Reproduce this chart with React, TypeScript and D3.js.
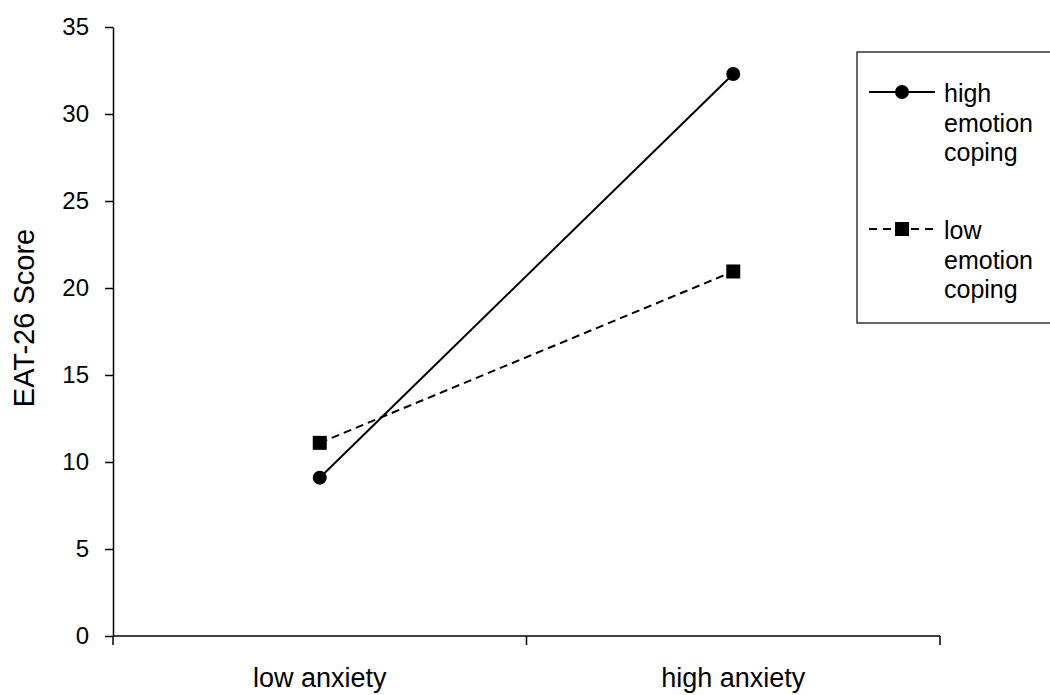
import React, { useEffect, useRef } from 'react'
import * as d3 from 'd3'

const categories = ['low anxiety', 'high anxiety']
const highEmotion = [9.1, 32.3]
const lowEmotion = [11.1, 20.95]
const yTicks = [0, 5, 10, 15, 20, 25, 30, 35]
const seriesNames = [['high', 'emotion', 'coping'], ['low', 'emotion', 'coping']]

const App = () => {
  const ref = useRef<SVGSVGElement>(null)

  useEffect(() => {
    const svg = d3.select(ref.current)
    svg.selectAll('*').remove()
    const font = 'Liberation Sans, Arial, sans-serif'

    const left = 113
    const right = 940
    const top = 27
    const bottom = 636

    const x = d3.scaleBand().domain(categories).range([left, right])
    const y = d3.scaleLinear().domain([0, 35]).range([bottom, top])

    // y axis
    const yAxis = svg
      .append('g')
      .attr('transform', `translate(${left},0)`)
      .call(d3.axisLeft(y).tickValues(yTicks).tickSize(8).tickPadding(16).tickSizeOuter(0))
    yAxis.select('.domain').attr('stroke', '#000').attr('stroke-width', 1.5)
    yAxis.selectAll('line').attr('stroke', '#000').attr('stroke-width', 1.5)
    yAxis.selectAll('text').attr('font-family', font).attr('font-size', 24).attr('fill', '#000')

    // x axis, ticks sit on the band edges
    const xg = svg.append('g').attr('transform', `translate(0,${bottom})`)
    xg.append('line').attr('x1', left).attr('x2', right).attr('stroke', '#000').attr('stroke-width', 1.5)
    const edges = [left, ...categories.map(c => (x(c) as number) + x.bandwidth())]
    xg.selectAll('line.tk')
      .data(edges)
      .enter()
      .append('line')
      .attr('class', 'tk')
      .attr('x1', d => d)
      .attr('x2', d => d)
      .attr('y1', 0)
      .attr('y2', 9)
      .attr('stroke', '#000')
      .attr('stroke-width', 1.5)
    xg.selectAll('text')
      .data(categories)
      .enter()
      .append('text')
      .attr('x', d => (x(d) as number) + x.bandwidth() / 2)
      .attr('y', 51)
      .attr('text-anchor', 'middle')
      .attr('font-family', font)
      .attr('font-size', 27)
      .text(d => d)

    // y title
    svg
      .append('text')
      .attr('transform', `translate(34,318) rotate(-90)`)
      .attr('text-anchor', 'middle')
      .attr('font-family', font)
      .attr('font-size', 29)
      .text('EAT-26 Score')

    const cx = (c: string) => (x(c) as number) + x.bandwidth() / 2
    const line = d3
      .line<number>()
      .x((d, i) => cx(categories[i]))
      .y(d => y(d))

    // low emotion coping (dashed, squares)
    svg
      .append('path')
      .attr('d', line(lowEmotion))
      .attr('fill', 'none')
      .attr('stroke', '#000')
      .attr('stroke-width', 2)
      .attr('stroke-dasharray', '8,5')
    svg
      .selectAll('rect.pt')
      .data(lowEmotion)
      .enter()
      .append('rect')
      .attr('x', (d, i) => cx(categories[i]) - 7)
      .attr('y', d => y(d) - 7)
      .attr('width', 14)
      .attr('height', 14)
      .attr('fill', '#000')

    // high emotion coping (solid, circles)
    svg
      .append('path')
      .attr('d', line(highEmotion))
      .attr('fill', 'none')
      .attr('stroke', '#000')
      .attr('stroke-width', 2)
    svg
      .selectAll('circle.pt')
      .data(highEmotion)
      .enter()
      .append('circle')
      .attr('cx', (d, i) => cx(categories[i]))
      .attr('cy', d => y(d))
      .attr('r', 7)
      .attr('fill', '#000')

    // legend
    const lg = svg.append('g')
    lg.append('rect')
      .attr('x', 857)
      .attr('y', 52)
      .attr('width', 210)
      .attr('height', 271)
      .attr('fill', '#fff')
      .attr('stroke', '#000')
      .attr('stroke-width', 1.2)
    const rows = [92, 229]
    seriesNames.forEach((lines, i) => {
      const ry = rows[i]
      lg.append('line')
        .attr('x1', 869)
        .attr('x2', 935)
        .attr('y1', ry)
        .attr('y2', ry)
        .attr('stroke', '#000')
        .attr('stroke-width', 2)
        .attr('stroke-dasharray', i === 1 ? '8,6' : null)
      if (i === 0) {
        lg.append('circle').attr('cx', 902).attr('cy', ry).attr('r', 7).attr('fill', '#000')
      } else {
        lg.append('rect').attr('x', 895).attr('y', ry - 7).attr('width', 14).attr('height', 14).attr('fill', '#000')
      }
      lines.forEach((t, j) => {
        lg.append('text')
          .attr('x', 944)
          .attr('y', ry + 10 + j * 29.5)
          .attr('font-family', font)
          .attr('font-size', 25)
          .text(t)
      })
    })
  }, [])

  return <svg ref={ref} width={1050} height={695} style={{ position: 'absolute', left: 0, top: 0, background: '#fff' }} />
}

export default App
